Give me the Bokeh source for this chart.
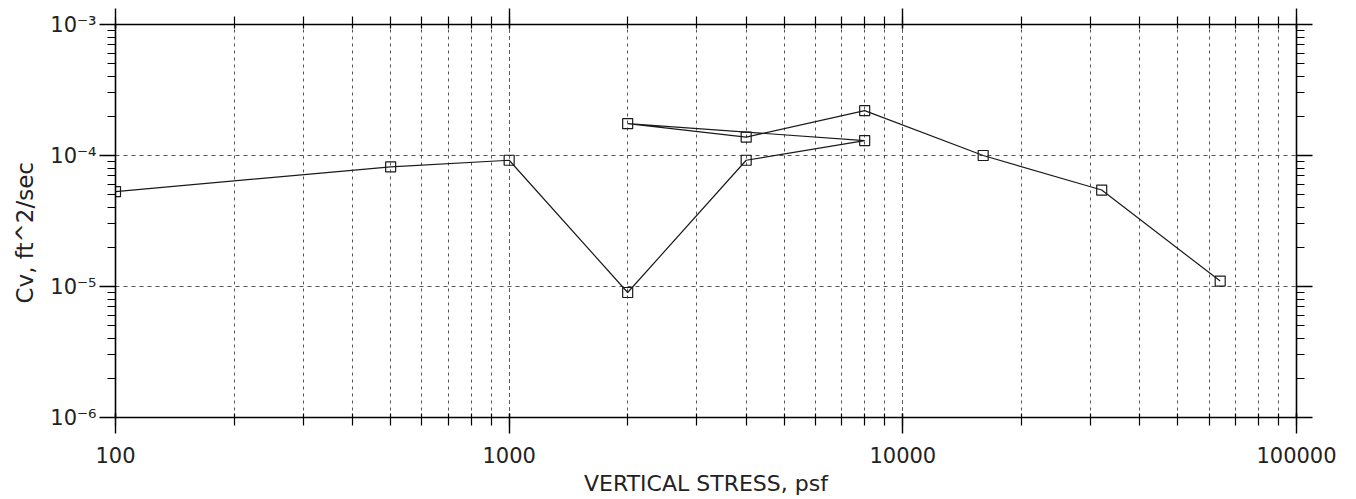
from bokeh.plotting import figure
from bokeh.models import (LogAxis, LogTicker, CustomJSTickFormatter, Range1d, Title,
                          ColumnDataSource)
from bokeh.embed import file_html
from bokeh.resources import INLINE

# ---- data ----
stress = [100, 500, 1000, 2000, 4000, 8000, 2000, 4000, 8000, 16000, 32000, 64000]
cv = [5.3e-5, 8.2e-5, 9.2e-5, 9.0e-6, 9.2e-5, 1.30e-4, 1.75e-4, 1.38e-4, 2.2e-4,
      1.0e-4, 5.45e-5, 1.1e-5]
x_limits = [100, 100000]
y_limits = [1e-6, 1e-3]
x_title = "VERTICAL STRESS, psf"
y_title = "Cv, ft^2/sec"

FONT = "DejaVu Sans"
src = ColumnDataSource(dict(x=stress, y=cv))

p = figure(width=1356, height=499, x_axis_type="log", y_axis_type="log",
           x_range=Range1d(*x_limits), y_range=Range1d(*y_limits),
           output_backend="svg", toolbar_location=None,
           min_border_left=111, min_border_right=60, min_border_top=24,
           min_border_bottom=82)
p.outline_line_color = None
p.background_fill_color = "white"
p.border_fill_color = "white"

xt = LogTicker(num_minor_ticks=10)
yt = LogTicker(num_minor_ticks=10)

xfmt = CustomJSTickFormatter(code="return Math.round(tick).toString();")
yfmt = CustomJSTickFormatter(code="""
const sup = {'-':'\u207b','0':'\u2070','1':'\u00b9','2':'\u00b2','3':'\u00b3','4':'\u2074',
             '5':'\u2075','6':'\u2076','7':'\u2077','8':'\u2078','9':'\u2079'};
const e = Math.round(Math.log10(tick));
return '10' + String(e).split('').map(c => sup[c]).join('');
""")
blank = CustomJSTickFormatter(code="return '';")

def style(ax, is_x, labels):
    ax.ticker = xt if is_x else yt
    ax.axis_line_color = "black"
    ax.axis_line_width = 1.6
    ax.major_tick_line_color = "black"
    ax.major_tick_line_width = 1.4
    ax.minor_tick_line_color = "black"
    ax.minor_tick_line_width = 1.2
    ax.major_tick_out = 16
    ax.minor_tick_out = 8
    ax.major_tick_in = 4 if is_x else 0
    ax.minor_tick_in = 4 if is_x else 0
    if labels:
        ax.major_label_text_font = FONT
        ax.major_label_text_font_size = "21px"
        ax.major_label_text_color = "#222222"
    else:
        ax.formatter = blank
        ax.major_label_text_font_size = "0px"
        ax.major_label_standoff = 0

bx = p.below[0]
style(bx, True, True)
bx.formatter = xfmt
bx.major_label_standoff = 13
bx.axis_label = x_title
bx.axis_label_text_font = FONT
bx.axis_label_text_font_size = "22px"
bx.axis_label_text_font_style = "normal"
bx.axis_label_text_color = "#222222"
bx.axis_label_standoff = 5

ly = p.left[0]
style(ly, False, True)
ly.formatter = yfmt
ly.major_label_standoff = 3

top = LogAxis()
style(top, True, False)
p.add_layout(top, "above")
right = LogAxis()
style(right, False, False)
p.add_layout(right, "right")

g = p.xgrid[0]
g.ticker = xt
g.grid_line_color = "#555555"
g.grid_line_dash = "3 4"
g.grid_line_width = 1
g.minor_grid_line_color = "#555555"
g.minor_grid_line_dash = "3 4"
g.minor_grid_line_width = 1

gy = p.ygrid[0]
gy.ticker = yt
gy.grid_line_color = "#555555"
gy.grid_line_dash = "4 4"
gy.grid_line_width = 1
gy.minor_grid_line_color = None

p.line("x", "y", source=src, line_color="#1a1a1a", line_width=1.2)
p.scatter("x", "y", source=src, marker="square", size=10, fill_color=None,
          line_color="#1a1a1a", line_width=1.2)

ytitle = Title(text=y_title, align="left", offset=114, standoff=19,
               text_font=FONT, text_font_size="23px", text_font_style="normal",
               text_color="#222222")
p.add_layout(ytitle, "left")

open("out.html", "w").write(file_html(p, INLINE))
